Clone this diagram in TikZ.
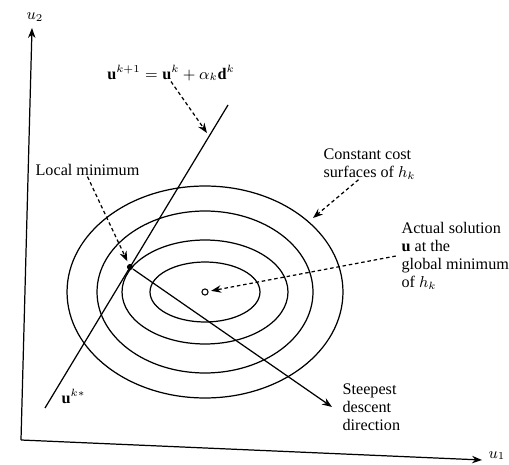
\documentclass[tikz,border=0pt]{standalone}
\usepackage{fontspec}
\setmainfont{Liberation Serif}
\usetikzlibrary{arrows.meta}

\begin{document}
\begin{tikzpicture}[x=0.02cm,y=-0.02cm,line width=0.7pt,>={Stealth[length=2mm]},
  font=\fontsize{9.2}{10.2}\selectfont,
  txt/.style={align=left,inner sep=0pt},
  da/.style={->,dash pattern=on 2pt off 1.6pt},
  pt/.style={circle,inner sep=0pt,minimum size=3.5pt}]
  \useasboundingbox (0,0) rectangle (509,465);
  % axes
  \coordinate (o) at (21,440);
  \coordinate (x1) at (482,460);
  \coordinate (x2) at (32,28);
  \draw[->] (o) -- (x1);
  \draw[->] (o) -- (x2);
  \node[txt,anchor=base west] (u1) at (488,458) {$u_1$};
  \node[txt,anchor=base west] (u2) at (26,20) {$u_2$};
  % cost contours
  \coordinate (c) at (205,292);
  \foreach \rx/\ry in {1.1/0.6, 1.66/1.04, 2.16/1.62, 2.76/2.12}
    \draw (c) ellipse [x radius=\rx cm, y radius=\ry cm];
  \node[pt,draw,line width=0.6pt] (sol) at (c) {};
  % search line and descent direction
  \coordinate (la) at (45,408);
  \coordinate (lb) at (228,105);
  \draw (la) -- (lb);
  \node[pt,fill] (lm) at (130,267) {};
  \coordinate (sd) at (332,407);
  \draw[->] (lm) -- (sd);
  % labels
  \node[txt] (upd) at (171,73) {$\mathbf{u}^{k+1}=\mathbf{u}^k+\alpha_k\mathbf{d}^k$};
  \node[txt,anchor=north west] (lmin) at (35,164) {Local minimum};
  \node[txt,anchor=north west] (ccs) at (323,148) {Constant cost\\ surfaces of $h_k$};
  \node[txt,anchor=north west] (act) at (401,222) {Actual solution\\ $\mathbf{u}$ at the\\ global minimum\\ of $h_k$};
  \node[txt,anchor=north west] (sdd) at (342,383) {Steepest\\ descent\\ direction};
  \node[txt,anchor=base west] (uk) at (61,403) {$\mathbf{u}^{k*}$};
  \coordinate (t1) at (207,133);
  \coordinate (t3) at (313,218);
  \draw[da] (upd.south) -- (t1);
  \draw[da,shorten >=1.5pt] (lmin.south) -- (lm);
  \draw[da] (ccs.235) -- (t3);
  \draw[da,shorten >=1.5pt] ([xshift=-3pt]act.west) -- (sol);
\end{tikzpicture}
\end{document}
